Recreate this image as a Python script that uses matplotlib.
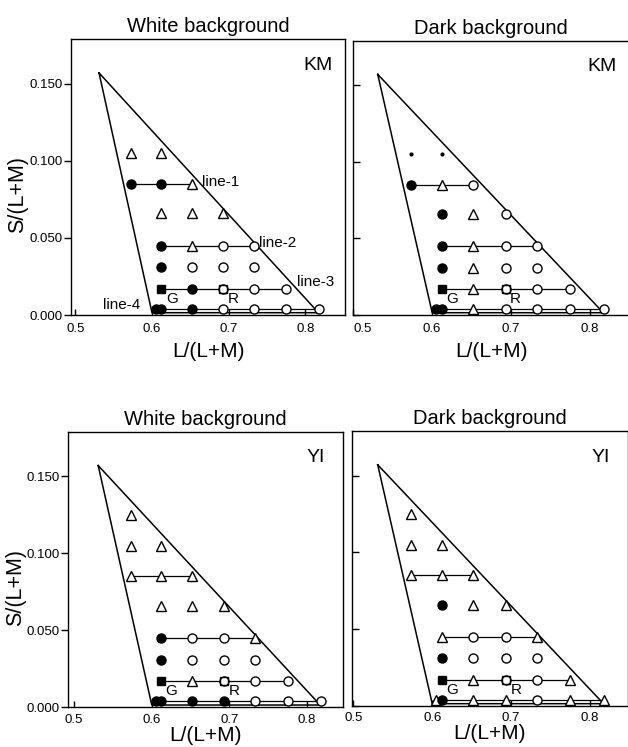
import matplotlib
matplotlib.use("Agg")
import matplotlib.pyplot as plt

plt.rcParams['font.family'] = ['Liberation Sans', 'DejaVu Sans']

# MacLeod-Boynton coordinates of the test colours
L_COLS = [0.573, 0.612, 0.652, 0.693, 0.733, 0.775, 0.818]
L_LINE4 = [0.605, 0.612, 0.652, 0.693, 0.733, 0.775, 0.818]
S_ROWS = [0.125, 0.105, 0.085, 0.066, 0.045, 0.031, 0.017, 0.004]
LINE_ROWS = [2, 4, 6, 7]          # rows joined as line-1 .. line-4
LINE_NAMES = ["line-1", "line-2", "line-3", "line-4"]

# monitor gamut triangle
GAMUT_L = [0.531, 0.600, 0.817, 0.531]
GAMUT_S = [0.157, 0.0015, 0.0015, 0.157]

G_POINT = (0.612, 0.017)
R_POINT = (0.693, 0.017)

# one char per column: f filled circle, o open circle, t open triangle,
# d small dot, s filled square (G), - nothing
KM_WHITE = ["-------", "tt-----", "fft----", "-ttt---",
            "-ftoo--", "-fooo--", "-sfooo-", "fffoooo"]
KM_DARK = ["-------", "dd-----", "fto----", "-fto---",
           "-ftoo--", "-ftoo--", "-stooo-", "fftoooo"]
YI_WHITE = ["t------", "tt-----", "ttt----", "-ttt---",
            "-foot--", "-fooo--", "-stooo-", "ffffooo"]
YI_DARK = ["t------", "tt-----", "ttt----", "-ftt---",
           "-toot--", "-fooo--", "-stoot-", "tfttott"]

STYLE = {
    'f': dict(marker='o', ms=6.5, mfc='black', mec='black'),
    'o': dict(marker='o', ms=6.5, mfc='white', mec='black'),
    't': dict(marker='^', ms=7, mfc='white', mec='black'),
    'd': dict(marker='o', ms=2, mfc='black', mec='black'),
    's': dict(marker='s', ms=6, mfc='black', mec='black'),
}


def draw_panel(ax, codes, title, subject, xlim, left, top, labels=False):
    ax.plot(GAMUT_L, GAMUT_S, color='black', lw=1.1, zorder=1)

    for i, row in enumerate(codes):
        cols = L_LINE4 if i == 7 else L_COLS
        s = S_ROWS[i]
        xs = [cols[j] for j, c in enumerate(row) if c != '-']
        if i in LINE_ROWS and xs:
            ax.plot([xs[0], xs[-1]], [s, s], color='black', lw=0.9, zorder=2)
        for j, c in enumerate(row):
            if c == '-':
                continue
            ax.plot(cols[j], s, ls='none', mew=1.0, zorder=3, **STYLE[c])

    ax.plot(*R_POINT, ls='none', marker='s', ms=6, mfc='none', mec='black',
            mew=1.0, zorder=4)
    ax.text(G_POINT[0] + 0.006, G_POINT[1] - 0.002, "G", fontsize=11,
            ha='left', va='top')
    ax.text(R_POINT[0] + 0.006, R_POINT[1] - 0.002, "R", fontsize=11,
            ha='left', va='top')

    if labels:
        ax.text(0.665, 0.0865, LINE_NAMES[0], fontsize=11, va='center')
        ax.text(0.740, 0.0465, LINE_NAMES[1], fontsize=11, va='center')
        ax.text(0.789, 0.0215, LINE_NAMES[2], fontsize=11, va='center')
        ax.text(0.536, 0.0065, LINE_NAMES[3], fontsize=11, va='center')

    ax.text(0.90, 0.905, subject, transform=ax.transAxes, fontsize=14,
            ha='center', va='center')

    ax.set_xlim(*xlim)
    ax.set_ylim(0, 0.179)
    ax.set_xticks([0.5, 0.6, 0.7, 0.8])
    xtl = ax.set_xticklabels(["0.5", "0.6", "0.7", "0.8"])
    ax.set_yticks([0.0, 0.05, 0.10, 0.15])
    ax.tick_params(axis='x', direction='in', length=4, width=1,
                   labelsize=9.5, pad=6 if top else 4.5)
    if left:
        ax.set_yticklabels(["0.000", "0.050", "0.100", "0.150"])
        ax.tick_params(axis='y', direction='out', length=5, width=1,
                       labelsize=9.5, pad=1)
        ax.set_ylabel("S/(L+M)", fontsize=15.5)
        ax.yaxis.set_label_coords(-0.155, 0.435)
    else:
        ax.set_yticklabels([])
        ax.tick_params(axis='y', direction='in', length=5, width=1)
        if top:
            xtl[0].set_ha('left')
    ax.set_xlabel("L/(L+M)", fontsize=15, labelpad=5 if top else 0)
    ax.set_title(title, fontsize=14.5, pad=5)
    for sp in ax.spines.values():
        sp.set_linewidth(1.0)


fig = plt.figure(figsize=(6.28, 7.47), dpi=100)

ax1 = fig.add_axes([0.1131, 0.5783, 0.4363, 0.3695])
ax2 = fig.add_axes([0.5626, 0.5783, 0.4395, 0.3672])
ax3 = fig.add_axes([0.1088, 0.0531, 0.4369, 0.3690])
ax4 = fig.add_axes([0.5600, 0.0549, 0.4400, 0.3681])

draw_panel(ax1, KM_WHITE, "White background", "KM", (0.4945, 0.8516), True, True, labels=True)
draw_panel(ax2, KM_DARK, "Dark background", "KM", (0.5, 0.85), False, True)
draw_panel(ax3, YI_WHITE, "White background", "YI", (0.4925, 0.846), True, False)
draw_panel(ax4, YI_DARK, "Dark background", "YI", (0.498, 0.848), False, False)

fig.savefig("out.png", dpi=100)
